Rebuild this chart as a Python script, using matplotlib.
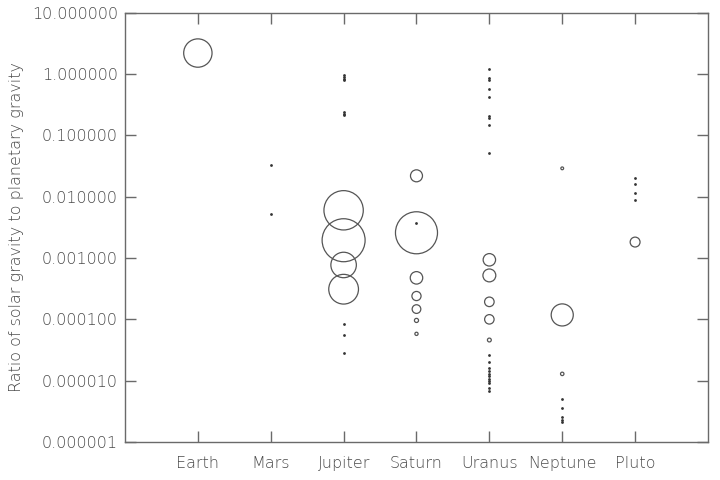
import numpy as np
import matplotlib
matplotlib.use("Agg")
import matplotlib.pyplot as plt
from matplotlib.ticker import FixedLocator, FuncFormatter, NullLocator

# Planets along the x axis
planets = ['Earth', 'Mars', 'Jupiter', 'Saturn', 'Uranus', 'Neptune', 'Pluto']

# Large moons: drawn as open circles sized by moon radius (km)
moon_planet = [0, 2, 2, 2, 2, 3, 3, 3, 3, 3, 3, 3, 4, 4, 4, 4, 4, 5, 5, 5, 6]
moon_ratio = [2.2, 3.1e-4, 7.7e-4, 1.95e-3, 6.0e-3,
              5.8e-5, 9.6e-5, 1.47e-4, 2.4e-4, 4.75e-4, 2.58e-3, 0.0219,
              4.6e-5, 1.0e-4, 1.93e-4, 5.2e-4, 9.35e-4,
              1.29e-5, 1.18e-4, 0.029, 1.82e-3]
moon_radius = [1737, 1821, 1561, 2634, 2410,
               198, 252, 531, 561, 764, 2575, 735,
               236, 579, 585, 789, 761,
               210, 1353, 170, 606]

# Small moons: drawn as dots
small_planet = ([1] * 2 + [2] * 10 + [3] * 1 + [4] * 20 + [5] * 5 + [6] * 4)
small_ratio = [0.0327, 0.0052,
               0.96, 0.90, 0.84, 0.79, 0.24, 0.225, 0.215, 8.4e-5, 5.5e-5, 2.8e-5,
               0.00375,
               1.19, 0.87, 0.80, 0.57, 0.417, 0.207, 0.189, 0.147, 0.0508,
               2.67e-5, 2.03e-5, 1.6e-5, 1.45e-5, 1.3e-5, 1.18e-5, 1.08e-5,
               1.0e-5, 9.1e-6, 7.7e-6, 6.7e-6,
               5.05e-6, 3.6e-6, 2.57e-6, 2.3e-6, 2.1e-6,
               0.0199, 0.0161, 0.0113, 0.0087]

y_ticks = [1e-6, 1e-5, 1e-4, 1e-3, 1e-2, 1e-1, 1, 10]

plt.rcParams['font.family'] = ['DejaVu Sans']
plt.rcParams['font.weight'] = 'light'

grey = '#6a6a6a'
txt = '#4a4a4a'
fig = plt.figure(figsize=(7.2, 4.8), dpi=100)
ax = fig.add_axes([0.1736, 0.0792, 0.8097, 0.8943])

# circle size: radius in px -> marker diameter in points
px_per_km = 0.00816
diam_pt = 2 * px_per_km * np.array(moon_radius) * 72 / 100
ax.scatter(np.array(moon_planet) + 1, moon_ratio, s=diam_pt ** 2,
           facecolors='none', edgecolors='#555555', linewidths=0.9)
ax.scatter(np.array(small_planet) + 1, small_ratio, s=4,
           color='#333333', linewidths=0)

ax.set_yscale('log')
ax.set_ylim(1e-6, 10)
ax.set_xlim(0, 8)
ax.yaxis.set_major_locator(FixedLocator(y_ticks))
ax.yaxis.set_minor_locator(NullLocator())
ax.yaxis.set_major_formatter(FuncFormatter(lambda v, p: '%.6f' % v))
ax.set_xticks(range(1, 8))
ax.set_xticklabels(planets)

for s in ax.spines.values():
    s.set_color(grey)
    s.set_linewidth(1.0)
ax.tick_params(axis='both', which='major', direction='in', length=8,
               width=1.0, color=grey, labelcolor=txt, labelsize=11.5,
               top=True, right=True)
ax.tick_params(axis='y', pad=5)
ax.tick_params(axis='x', pad=10)
ax.set_ylabel('Ratio of solar gravity to planetary gravity',
              fontsize=11.5, color=txt, fontweight='light', labelpad=6)

fig.savefig('out.png', dpi=100)
